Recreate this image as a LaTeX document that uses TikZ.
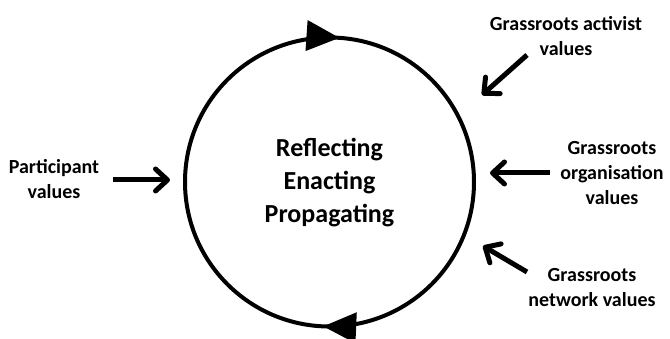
\documentclass[tikz,border=0pt]{standalone}
\usepackage{fontspec}
\setmainfont{Carlito}
\usetikzlibrary{arrows.meta,decorations.markings}

\begin{document}
\begin{tikzpicture}[x=1pt,y=1pt,
  lbl/.style={font=\bfseries\fontsize{20}{25}\selectfont,align=center,inner sep=0pt},
  valarrow/.style={line width=5pt,-{Straight Barb[length=12pt,width=22pt,round]}},
  cyclehead/.style={Triangle[length=33pt,width=30pt]}]
  \useasboundingbox (0,0) rectangle (670,339);
  % the cycle with its text
  \node[font=\bfseries\fontsize{26}{33}\selectfont,align=center,inner sep=0pt]
    (cycle) at (329.5,156) {Reflecting\\Enacting\\Propagating};
  \draw[line width=4pt,postaction={decorate,decoration={markings,
      mark=at position 0.239 with {\arrowreversed{Triangle[length=33pt,width=30pt]}},
      mark=at position 0.743 with {\arrowreversed{Triangle[length=33pt,width=30pt]}}}}]
    (329.5,157) circle[radius=144.5];
  % value sources
  \node[lbl] (participant) at (54,160) {Participant\\values};
  \node[lbl] (activist) at (566,303) {Grassroots activist\\values};
  \node[lbl] (organisation) at (612,166) {Grassroots\\organisation\\values};
  \node[lbl] (network) at (592,51) {Grassroots\\network values};
  % arrow ends
  \coordinate (participant-s) at (113,159);
  \coordinate (participant-e) at (170,159);
  \coordinate (activist-s) at (527,284);
  \coordinate (activist-e) at (482,244);
  \coordinate (organisation-s) at (550,166);
  \coordinate (organisation-e) at (490,166);
  \coordinate (network-s) at (527,67);
  \coordinate (network-e) at (483,93);
  \draw[valarrow] (participant-s) -- (participant-e);
  \draw[valarrow] (activist-s) -- (activist-e);
  \draw[valarrow] (organisation-s) -- (organisation-e);
  \draw[valarrow] (network-s) -- (network-e);
\end{tikzpicture}
\end{document}
